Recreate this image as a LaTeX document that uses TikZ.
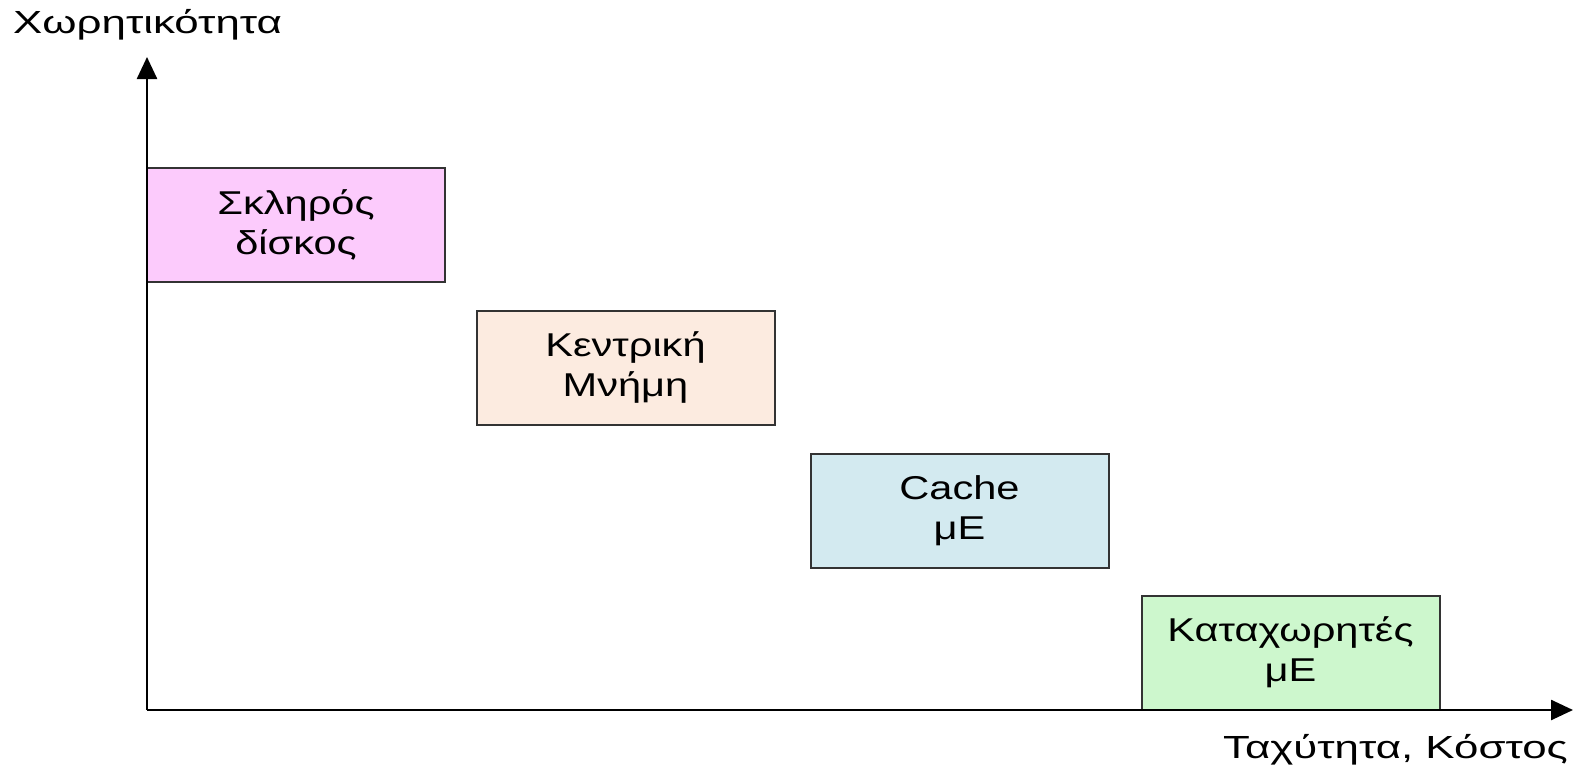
\documentclass[tikz,border=0pt]{standalone}
\usepackage{fontspec}
\setmainfont{Liberation Sans}
\newfontfamily\boxfont[FakeStretch=1.26]{Liberation Sans}
\newfontfamily\labfont[FakeStretch=1.37]{Liberation Sans}
\usetikzlibrary{arrows.meta}
\definecolor{cpink}{HTML}{FCCBFC}
\definecolor{cpeach}{HTML}{FCEBE0}
\definecolor{cblue}{HTML}{D3EAF0}
\definecolor{cgreen}{HTML}{CDF7CD}
\definecolor{cedge}{HTML}{333333}
\begin{document}
\begin{tikzpicture}[x=1pt,y=-1pt,
  levelbox/.style={draw=cedge,line width=2pt,rectangle,minimum width=298pt,minimum height=114pt,
    inner sep=0pt,align=center,font=\boxfont\fontsize{33}{40}\selectfont},
  axis/.style={line width=2.5pt,-{Triangle[width=20pt,length=22pt]}},
  axlabel/.style={inner sep=0pt,font=\labfont\fontsize{32}{40}\selectfont}]
\useasboundingbox (0,0) rectangle (1575,771);
\fill[white] (0,0) rectangle (1575,771);
\coordinate (O) at (147,710);
\coordinate (Ytip) at (147,57);
\coordinate (Xtip) at (1573,710);
\node[levelbox,fill=cpink] (hdd) at (296,225) {Σκληρός\\δίσκος};
\node[levelbox,fill=cpeach] (ram) at (625.5,367.5) {Κεντρική\\Μνήμη};
\node[levelbox,fill=cblue] (cache) at (959.5,510.5) {Cache\\μΕ};
\node[levelbox,fill=cgreen] (reg) at (1290.5,652.5) {Καταχωρητές\\μΕ};
\draw[axis] (O) -- (Ytip);
\draw[axis] (O) -- (Xtip);
\node[axlabel,anchor=base west] (ylab) at (13,33) {Χωρητικότητα};
\node[axlabel,anchor=base east] (xlab) at (1568,758) {Ταχύτητα, Κόστος};
\end{tikzpicture}
\end{document}
